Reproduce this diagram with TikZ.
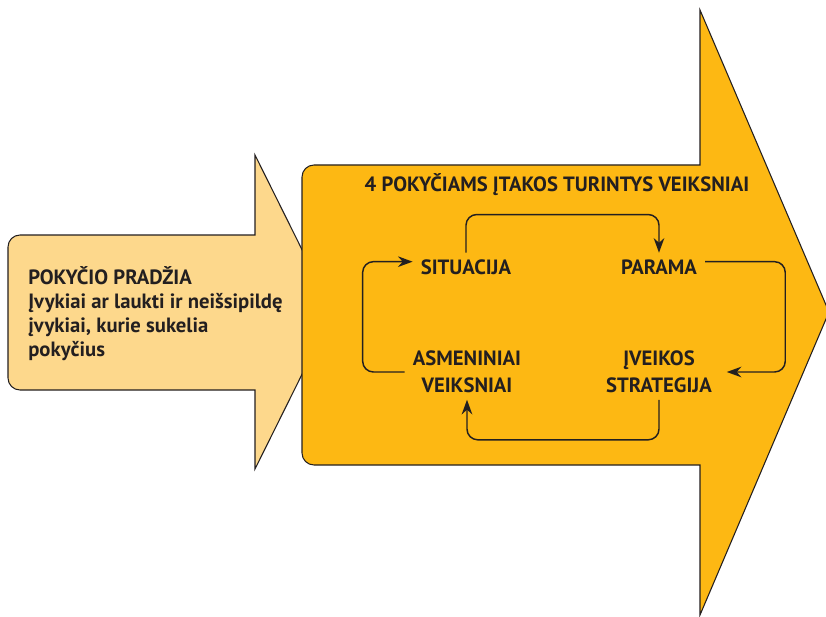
\documentclass[tikz,border=0pt]{standalone}
\usepackage{fontspec}
\setmainfont{PT Sans}
\usetikzlibrary{arrows.meta,positioning}
\definecolor{ink}{HTML}{231F20}
\definecolor{paleorange}{HTML}{FDD88C}
\definecolor{deeporange}{HTML}{FDB813}

\begin{document}
\begin{tikzpicture}[
    x=0.75pt, y=-0.75pt,
    smallarrow/.style={draw=ink, line width=0.8pt, fill=paleorange},
    bigarrow/.style={draw=ink, line width=0.8pt, fill=deeporange},
    factor/.style={font=\bfseries\fontsize{15.5}{20}\selectfont, text=ink, align=center, inner xsep=6pt, inner ysep=5pt},
    cyc/.style={-{Stealth[length=11pt,width=8pt]}, line width=1.1pt, draw=ink, rounded corners=8pt}
]
\useasboundingbox (0,0) rectangle (826,617);
% the two arrows
\draw[smallarrow] (8,312) [rounded corners=9pt] -- (8,235) -- (130,235) [sharp corners] -- (255,235) -- (255,155) -- (333,312) -- (255,469) -- (255,390) -- (130,390) [rounded corners=9pt] -- (8,390) -- cycle;
\draw[bigarrow] (302,312) [rounded corners=9pt] -- (302,165) -- (500,165) [sharp corners] -- (700,165) -- (700,10) -- (829,312) -- (700,615) -- (700,465) -- (500,465) [rounded corners=9pt] -- (302,465) -- cycle;
% texts
\node[anchor=north west, align=left, inner sep=0pt, text=ink, font=\bfseries\fontsize{15.5}{18}\selectfont] (start) at (28,266) {POKYČIO PRADŽIA\\Įvykiai ar laukti ir neišsipildę\\įvykiai, kurie sukelia\\pokyčius};
\node[factor] (title) at (557,185) {4 POKYČIAMS ĮTAKOS TURINTYS VEIKSNIAI};
\node[factor] (sit) at (466,267) {SITUACIJA};
\node[factor] (par) at (659,267) {PARAMA};
\node[factor] (asm) at (467,372) {ASMENINIAI\\VEIKSNIAI};
\node[factor] (str) at (659,372) {ĮVEIKOS\\STRATEGIJA};
% the cycle
\draw[cyc] (sit.north) -- ++(0,-38) -| (par.north);
\draw[cyc] ([yshift=4pt]par.east) -- ++(80,0) |- ([xshift=5pt]str.east);
\draw[cyc] (str.south) -- ++(0,40) -| (asm.south);
\draw[cyc] (asm.west) -- ++(-42,0) |- ([yshift=4pt]sit.west);
\end{tikzpicture}
\end{document}
